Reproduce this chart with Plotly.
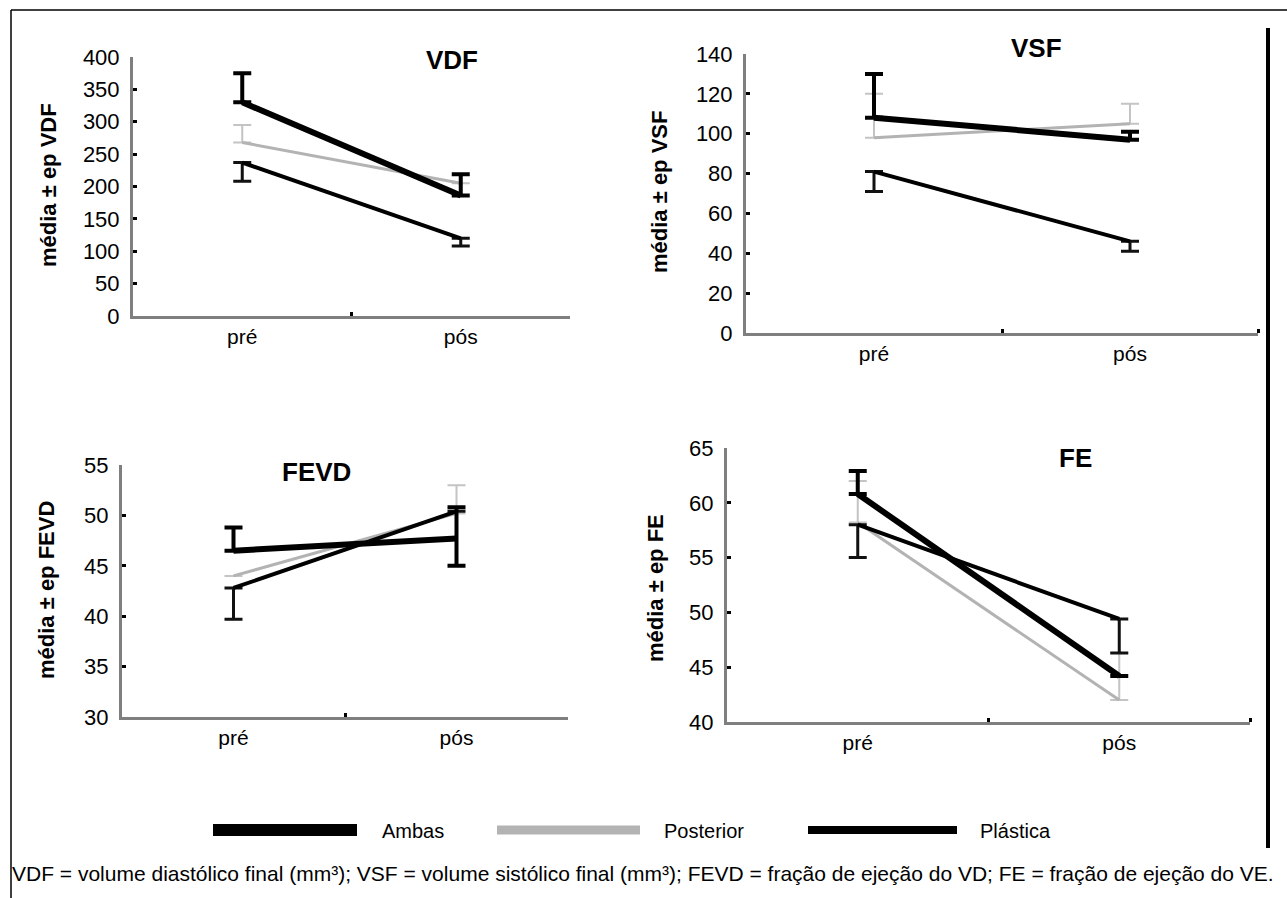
import plotly.graph_objects as go

W, H = 1287, 898

periods = ["pré", "pós"]
groups = ["Ambas", "Posterior", "Plástica"]

# VDF
vdf_ambas = [330, 186]
vdf_ambas_up = [45, 33]
vdf_ambas_dn = [0, 0]
vdf_post = [268, 205]
vdf_post_up = [27, 0]
vdf_post_dn = [0, 0]
vdf_plas = [237, 120]
vdf_plas_up = [0, 0]
vdf_plas_dn = [29, 12]

# VSF
vsf_ambas = [108, 97]
vsf_ambas_up = [22, 4]
vsf_ambas_dn = [0, 0]
vsf_post = [98, 105]
vsf_post_up = [22, 10]
vsf_post_dn = [0, 0]
vsf_plas = [81, 46]
vsf_plas_up = [0, 0]
vsf_plas_dn = [10, 5]

# FEVD
fevd_ambas = [46.5, 47.7]
fevd_ambas_up = [2.3, 3.1]
fevd_ambas_dn = [0, 2.7]
fevd_post = [44.0, 50.2]
fevd_post_up = [0, 2.8]
fevd_post_dn = [0, 0]
fevd_plas = [42.8, 50.4]
fevd_plas_up = [0, 0]
fevd_plas_dn = [3.1, 0]

# FE
fe_ambas = [60.8, 44.2]
fe_ambas_up = [2.1, 0]
fe_ambas_dn = [0, 0]
fe_post = [58.2, 42.0]
fe_post_up = [3.8, 4.3]
fe_post_dn = [0, 0]
fe_plas = [58.0, 49.4]
fe_plas_up = [0, 0]
fe_plas_dn = [3.0, 3.1]

panel_titles = ["VDF", "VSF", "FEVD", "FE"]
y_titles = ["média ± ep VDF", "média ± ep VSF", "média ± ep FEVD", "média ± ep FE"]
y_ranges = [[0, 400], [0, 140], [30, 55], [40, 65]]
y_dticks = [50, 20, 5, 5]

caption = ("VDF = volume diastólico final (mm³); VSF = volume sistólico final (mm³); "
           "FEVD = fração de ejeção do VD; FE = fração de ejeção do VE.")

panels_data = [
    [(vdf_ambas, vdf_ambas_up, vdf_ambas_dn), (vdf_post, vdf_post_up, vdf_post_dn), (vdf_plas, vdf_plas_up, vdf_plas_dn)],
    [(vsf_ambas, vsf_ambas_up, vsf_ambas_dn), (vsf_post, vsf_post_up, vsf_post_dn), (vsf_plas, vsf_plas_up, vsf_plas_dn)],
    [(fevd_ambas, fevd_ambas_up, fevd_ambas_dn), (fevd_post, fevd_post_up, fevd_post_dn), (fevd_plas, fevd_plas_up, fevd_plas_dn)],
    [(fe_ambas, fe_ambas_up, fe_ambas_dn), (fe_post, fe_post_up, fe_post_dn), (fe_plas, fe_plas_up, fe_plas_dn)],
]

# layout in pixels: (x_left, x_right, y_bottom, y_top)
boxes = [(133, 570, 316, 57), (746, 1258, 333, 54), (122, 568, 717, 465), (727, 1250, 722, 448)]
end_tick = [False, True, False, True]
title_pos = [(452, 60), (1036, 48), (316, 472), (1075, 458)]
ytitle_pos = [(48, 185), (660, 192), (46, 590), (655, 588)]

styles = {
    "Ambas": dict(color="#000000", width=6, ecolor="#000000", ethick=4),
    "Posterior": dict(color="#b3b3b3", width=3, ecolor="#c4c4c4", ethick=2),
    "Plástica": dict(color="#000000", width=4, ecolor="#111111", ethick=3),
}
draw_order = ["Posterior", "Plástica", "Ambas"]

def px(x):
    return x / W

def py(y):
    return 1 - y / H

fig = go.Figure()
FONT = "Liberation Sans, Arial, sans-serif"
xs = list(range(len(periods)))

for i in range(4):
    ax = "" if i == 0 else str(i + 1)
    xl, xr, yb, yt = boxes[i]
    for g in draw_order:
        gi = groups.index(g)
        vals, up, dn = panels_data[i][gi]
        st = styles[g]
        fig.add_trace(go.Scatter(
            x=xs, y=vals, mode="lines", name=g, showlegend=False,
            line=dict(color=st["color"], width=st["width"]),
            error_y=dict(type="data", symmetric=False, array=up, arrayminus=dn,
                         color=st["ecolor"], thickness=st["ethick"], width=9),
            xaxis="x" + ax, yaxis="y" + ax, hoverinfo="skip"))
    minor_vals = [0.5, 1.5] if end_tick[i] else [0.5]
    fig.layout["xaxis" + ax] = dict(
        domain=[px(xl), px(xr)], anchor="y" + ax, range=[-0.5, 1.5],
        tickvals=xs, ticktext=periods, ticks="", showgrid=False, zeroline=False,
        showline=True, linecolor="#7f7f7f", linewidth=3, automargin=False,
        tickfont=dict(family=FONT, size=21, color="#000"),
        minor=dict(tickvals=minor_vals, ticks="inside", ticklen=4, tickwidth=3, tickcolor="#000"),
        fixedrange=True)
    fig.layout["yaxis" + ax] = dict(
        domain=[py(yb), py(yt)], anchor="x" + ax, range=y_ranges[i], dtick=y_dticks[i],
        ticks="inside", ticklen=4, tickwidth=3, tickcolor="#000", automargin=False,
        showgrid=False, zeroline=False, showline=True, linecolor="#7f7f7f", linewidth=3,
        tickfont=dict(family=FONT, size=22, color="#000"), ticklabelstandoff=6,
        fixedrange=True)

annotations = []
for i in range(4):
    tx, ty = title_pos[i]
    annotations.append(dict(x=px(tx), y=py(ty), xref="paper", yref="paper", text="<b>%s</b>" % panel_titles[i],
                            showarrow=False, font=dict(family=FONT, size=26, color="#000"),
                            xanchor="center", yanchor="middle"))
    ax_, ay_ = ytitle_pos[i]
    annotations.append(dict(x=px(ax_), y=py(ay_), xref="paper", yref="paper", text="<b>%s</b>" % y_titles[i],
                            showarrow=False, textangle=-90, font=dict(family=FONT, size=22, color="#000"),
                            xanchor="center", yanchor="middle"))

# legend (manual, long line keys)
legend_keys = [(213, 357, 12, "#000000"), (497, 640, 9, "#b3b3b3"), (808, 957, 8, "#000000")]
legend_text_x = [380, 662, 978]
legend_y = 830
shapes = []
for (x0, x1, wdt, col), tx, g in zip(legend_keys, legend_text_x, groups):
    shapes.append(dict(type="line", xref="paper", yref="paper", x0=px(x0), x1=px(x1), y0=py(legend_y), y1=py(legend_y),
                       line=dict(color=col, width=wdt)))
    annotations.append(dict(x=px(tx), y=py(legend_y + 1), xref="paper", yref="paper", text=g, showarrow=False,
                            xanchor="left", yanchor="middle", font=dict(family=FONT, size=20, color="#000")))

annotations.append(dict(x=px(10), y=py(873), xref="paper", yref="paper", text=caption, showarrow=False,
                        xanchor="left", yanchor="middle", font=dict(family=FONT, size=21, color="#000")))

# frame
shapes.append(dict(type="line", xref="paper", yref="paper", x0=px(11), x1=1, y0=py(10), y1=py(10),
                   line=dict(color="#000", width=1.5)))
shapes.append(dict(type="line", xref="paper", yref="paper", x0=px(11), x1=px(11), y0=py(10), y1=0,
                   line=dict(color="#000", width=1.5)))
shapes.append(dict(type="line", xref="paper", yref="paper", x0=px(1268), x1=px(1268), y0=py(28), y1=py(848),
                   line=dict(color="#000", width=4)))

fig.update_layout(width=W, height=H, margin=dict(l=0, r=0, t=0, b=0, pad=0, autoexpand=False),
                  paper_bgcolor="white", plot_bgcolor="white",
                  annotations=annotations, shapes=shapes, showlegend=False)

fig.write_html("out.html", config={"displayModeBar": False},
               post_script="document.body.style.margin='0';document.body.style.overflow='hidden';")
